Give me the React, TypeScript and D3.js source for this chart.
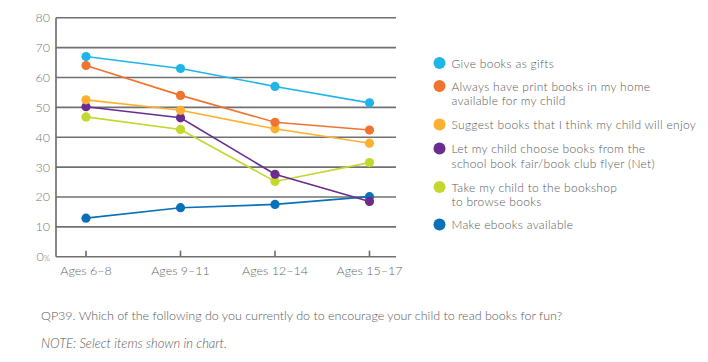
import React from "react";
import * as d3 from "d3";

const categories = ["Ages 6–8", "Ages 9–11", "Ages 12–14", "Ages 15–17"];
const yTicks = [0, 10, 20, 30, 40, 50, 60, 70, 80];

const seriesNames = [
  ["Give books as gifts"],
  ["Always have print books in my home", "available for my child"],
  ["Suggest books that I think my child will enjoy"],
  ["Let my child choose books from the", "school book fair/book club flyer (Net)"],
  ["Take my child to the bookshop", "to browse books"],
  ["Make ebooks available"],
];
const seriesColors = ["#1fb5e9", "#ef7430", "#fbb12f", "#6a2c8e", "#c4d72d", "#0a70b8"];

const giftsValues = [67, 63, 57, 51.5];
const printValues = [64, 54, 45, 42.4];
const suggestValues = [52.5, 49, 42.8, 38];
const chooseValues = [50.2, 46.5, 27.6, 18.5];
const bookshopValues = [46.8, 42.6, 25.2, 31.5];
const ebookValues = [12.9, 16.4, 17.5, 20.1];

const seriesValues = [giftsValues, printValues, suggestValues, chooseValues, bookshopValues, ebookValues];

const W = 708;
const H = 362;
const FONT = "Lato, 'Open Sans', sans-serif";
const TEXT = "#5a5a5a";

export default function App() {
  const x = d3.scalePoint<string>().domain(categories).range([86, 369.5]);
  const y = d3.scaleLinear().domain([0, 80]).range([256.7, 17.7]);
  const left = 56;
  const right = 396;
  const line = d3
    .line<number>()
    .x((_, i) => x(categories[i]) as number)
    .y((d) => y(d));

  const legendRows: number[] = [63, 86, 124.5, 148.5, 187, 224.5];

  const order = [5, 4, 3, 2, 1, 0];

  return (
    <svg width={W} height={H} style={{ position: "absolute", left: 0, top: 0 }} fontFamily={FONT}>
      <rect width={W} height={H} fill="#fff" />
      {yTicks.map((t) => (
        <line key={t} x1={left} x2={right} y1={y(t)} y2={y(t)} stroke="#707070" strokeWidth={1.6} />
      ))}
      <line x1={left} x2={left} y1={y(80)} y2={y(0)} stroke="#6a6a6a" strokeWidth={1.6} />
      {categories.map((c) => (
        <line key={c} x1={x(c)} x2={x(c)} y1={y(0) - 6} y2={y(0)} stroke="#6a6a6a" strokeWidth={1.6} />
      ))}
      {yTicks.map((t) => (
        <text key={t} x={50} y={y(t) + 4.5} textAnchor="end" fontSize={12.5} fill="#777" fontWeight={300}>
          {t}
          {t === 0 ? <tspan fontSize={8}>%</tspan> : null}
        </text>
      ))}
      {categories.map((c) => (
        <text key={c} x={x(c)} y={275} textAnchor="middle" fontSize={12.5} fill="#666" fontWeight={300}>
          {c}
        </text>
      ))}
      {order.map((si) => (
        <g key={si}>
          <path d={line(seriesValues[si]) || ""} fill="none" stroke={seriesColors[si]} strokeWidth={1.6} />
          {seriesValues[si].map((v, i) => (
            <circle key={i} cx={x(categories[i])} cy={y(v)} r={4.6} fill={seriesColors[si]} />
          ))}
        </g>
      ))}
      {seriesNames.map((lines, si) => (
        <g key={si}>
          <circle cx={439.5} cy={legendRows[si]} r={6} fill={seriesColors[si]} />
          {lines.map((l, li) => (
            <text
              key={li}
              x={451.5}
              y={legendRows[si] + 4.5 + li * 14.5}
              fontSize={12}
              letterSpacing={0.29}
              fill={TEXT}
              fontWeight={300}
            >
              {l}
            </text>
          ))}
        </g>
      ))}
      <text x={41} y={320} fontSize={12.5} fill={TEXT} fontWeight={300}>
        QP39. Which of the following do you currently do to encourage your child to read books for fun?
      </text>
      <text x={41} y={348} fontSize={13} fill={TEXT} fontWeight={300} fontStyle="italic">
        NOTE: Select items shown in chart.
      </text>
    </svg>
  );
}
